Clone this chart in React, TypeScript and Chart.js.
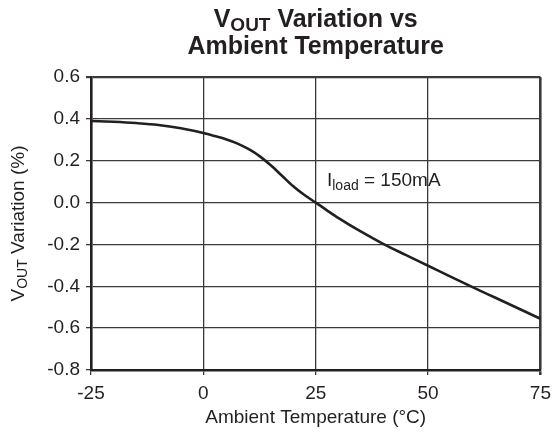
import React, { useEffect, useRef } from "react";
import { Chart, registerables } from "chart.js";

Chart.register(...registerables);

const temperatures = [-25, -20, -15, -10, -5, 0, 2.5, 5, 7.5, 10, 12.5, 15, 17.5, 20, 22.5, 25, 27.5, 30, 35, 40, 45, 50, 55, 60, 65, 70, 75];
const variation = [0.39, 0.386, 0.38, 0.371, 0.355, 0.332, 0.318, 0.303, 0.283, 0.256, 0.222, 0.178, 0.128, 0.078, 0.036, 0.0, -0.037, -0.073, -0.138, -0.197, -0.25, -0.302, -0.354, -0.405, -0.455, -0.505, -0.555];
const xTickValues = [-25, 0, 25, 50, 75];
const yTickValues = [-0.8, -0.6, -0.4, -0.2, 0.0, 0.2, 0.4, 0.6];

const titleMain = "V";
const titleSub = "OUT";
const titleRest1 = " Variation vs";
const titleLine2 = "Ambient Temperature";
const yTitleMain = "V";
const yTitleSub = "OUT";
const yTitleRest = " Variation (%)";
const xTitle = "Ambient Temperature (\u00B0C)";
const noteMain = "I";
const noteSub = "load";
const noteRest = " = 150mA";
const noteX = 27.5;
const noteY = 0.08;

const FONT = "'Liberation Sans', Arial, Helvetica, sans-serif";
const INK = "#231f20";

function drawSubText(
  ctx: CanvasRenderingContext2D,
  x: number,
  y: number,
  parts: { text: string; size: number; bold?: boolean; dy?: number }[],
  align: "left" | "center"
) {
  let total = 0;
  const widths = parts.map((p) => {
    ctx.font = `${p.bold ? "bold " : ""}${p.size}px ${FONT}`;
    const w = ctx.measureText(p.text).width;
    total += w;
    return w;
  });
  let cx = align === "center" ? x - total / 2 : x;
  parts.forEach((p, i) => {
    ctx.font = `${p.bold ? "bold " : ""}${p.size}px ${FONT}`;
    ctx.fillText(p.text, cx, y + (p.dy || 0));
    cx += widths[i];
  });
}

const textPlugin = {
  id: "customText",
  afterDraw(chart: any) {
    const ctx = chart.ctx as CanvasRenderingContext2D;
    const area = chart.chartArea;
    const cx = (area.left + area.right) / 2;
    ctx.save();
    ctx.fillStyle = INK;
    ctx.textAlign = "left";
    ctx.textBaseline = "alphabetic";
    // title
    drawSubText(
      ctx,
      cx,
      27,
      [
        { text: titleMain, size: 25, bold: true },
        { text: titleSub, size: 19, bold: true, dy: 4 },
        { text: titleRest1, size: 25, bold: true },
      ],
      "center"
    );
    drawSubText(ctx, cx, 54, [{ text: titleLine2, size: 25, bold: true }], "center");
    // x title
    ctx.textBaseline = "middle";
    drawSubText(ctx, cx, 418, [{ text: xTitle, size: 19 }], "center");
    // y title
    ctx.save();
    ctx.translate(19, (area.top + area.bottom) / 2);
    ctx.rotate(-Math.PI / 2);
    ctx.textBaseline = "middle";
    drawSubText(
      ctx,
      0,
      0,
      [
        { text: yTitleMain, size: 19 },
        { text: yTitleSub, size: 14, dy: 4 },
        { text: yTitleRest, size: 19 },
      ],
      "center"
    );
    ctx.restore();
    // annotation
    ctx.textBaseline = "alphabetic";
    const nx = chart.scales.x.getPixelForValue(noteX);
    const ny = chart.scales.y.getPixelForValue(noteY);
    drawSubText(
      ctx,
      nx,
      ny,
      [
        { text: noteMain, size: 19 },
        { text: noteSub, size: 14, dy: 4 },
        { text: noteRest, size: 19 },
      ],
      "left"
    );
    ctx.restore();
  },
};

export default function App() {
  const ref = useRef<HTMLCanvasElement | null>(null);
  useEffect(() => {
    if (!ref.current) return;
    const chart = new Chart(ref.current, {
      type: "line",
      data: {
        datasets: [
          {
            data: temperatures.map((t, i) => ({ x: t, y: variation[i] })),
            borderColor: INK,
            borderWidth: 2.6,
            pointRadius: 0,
            fill: false,
            cubicInterpolationMode: "monotone",
          },
        ],
      },
      options: {
        responsive: false,
        animation: false,
        layout: { padding: { top: 77, right: 12, left: 0, bottom: 0 } },
        plugins: { legend: { display: false }, tooltip: { enabled: false }, title: { display: false } },
        scales: {
          x: {
            type: "linear",
            min: -25,
            max: 75,
            afterBuildTicks: (s: any) => {
              s.ticks = xTickValues.map((v) => ({ value: v }));
            },
            afterFit: (s: any) => {
              s.height = 66;
            },
            ticks: {
              color: INK,
              font: { family: FONT, size: 19 },
              padding: 7,
              maxRotation: 0,
              callback: (v: any) => String(v),
            },
            grid: {
              color: "#3a3a3a",
              lineWidth: (c: any) => (c.tick && c.tick.value === 75 ? 2.6 : 1.3),
              tickLength: 5,
            },
            border: { color: INK, width: 2.6 },
          },
          y: {
            type: "linear",
            min: -0.8,
            max: 0.6,
            afterBuildTicks: (s: any) => {
              s.ticks = yTickValues.map((v) => ({ value: v }));
            },
            afterFit: (s: any) => {
              s.width = 91;
            },
            ticks: {
              color: INK,
              font: { family: FONT, size: 19 },
              padding: 6,
              callback: (v: any) => (Math.abs(v) < 1e-9 ? "0.0" : Number(v).toFixed(1)),
            },
            grid: {
              color: "#3a3a3a",
              lineWidth: (c: any) => (c.tick && Math.abs(c.tick.value - 0.6) < 1e-9 ? 2.2 : 1.3),
              tickLength: 5,
            },
            border: { color: INK, width: 2.6 },
          },
        },
      },
      plugins: [textPlugin],
    } as any);
    return () => chart.destroy();
  }, []);
  return (
    <div style={{ position: "fixed", left: 0, top: 0, width: 558, height: 436, background: "#fff" }}>
      <canvas ref={ref} width={558} height={436} />
    </div>
  );
}
